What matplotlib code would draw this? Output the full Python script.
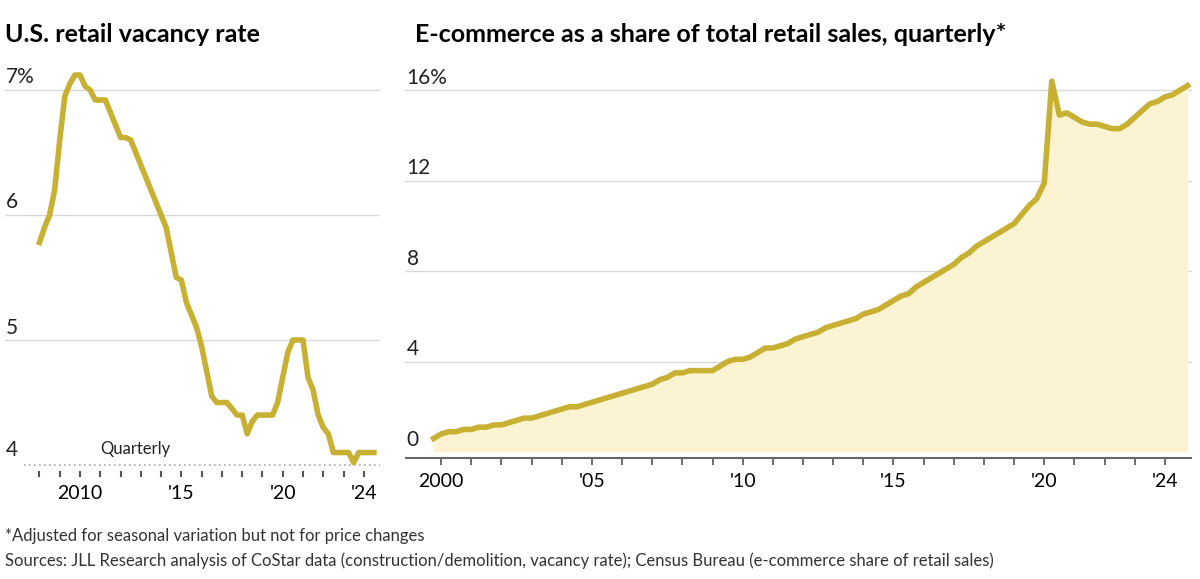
import numpy as np
import matplotlib.pyplot as plt

plt.rcParams['font.family'] = ['Lato', 'DejaVu Sans']

# U.S. retail vacancy rate, quarterly from 2008 Q1
vac_start = 2008.0
vacancy = [5.78, 5.9, 6.0, 6.2, 6.6, 6.95, 7.05, 7.12,
           7.12, 7.03, 7.0, 6.92, 6.92, 6.92, 6.82, 6.72,
           6.62, 6.62, 6.6, 6.5, 6.4, 6.3, 6.2, 6.1,
           6.0, 5.9, 5.7, 5.5, 5.48, 5.3, 5.2, 5.1,
           4.95, 4.75, 4.55, 4.5, 4.5, 4.5, 4.45, 4.4,
           4.4, 4.25, 4.35, 4.4, 4.4, 4.4, 4.4, 4.5,
           4.7, 4.9, 5.0, 5.0, 5.0, 4.7, 4.6, 4.4,
           4.3, 4.25, 4.1, 4.1, 4.1, 4.1, 4.02, 4.1,
           4.1, 4.1, 4.1]

# E-commerce share of retail sales, quarterly from 1999 Q4
ec_start = 1999.75
ecommerce = [0.6,
             0.8, 0.9, 0.9, 1.0, 1.0, 1.1, 1.1, 1.2,
             1.2, 1.3, 1.4, 1.5, 1.5, 1.6, 1.7, 1.8,
             1.9, 2.0, 2.0, 2.1, 2.2, 2.3, 2.4, 2.5,
             2.6, 2.7, 2.8, 2.9, 3.0, 3.2, 3.3, 3.5,
             3.5, 3.6, 3.6, 3.6, 3.6, 3.8, 4.0, 4.1,
             4.1, 4.2, 4.4, 4.6, 4.6, 4.7, 4.8, 5.0,
             5.1, 5.2, 5.3, 5.5, 5.6, 5.7, 5.8, 5.9,
             6.1, 6.2, 6.3, 6.5, 6.7, 6.9, 7.0, 7.3,
             7.5, 7.7, 7.9, 8.1, 8.3, 8.6, 8.8, 9.1,
             9.3, 9.5, 9.7, 9.9, 10.1, 10.5, 10.9, 11.2,
             11.9, 16.4, 14.9, 15.0, 14.8, 14.6, 14.5, 14.5,
             14.4, 14.3, 14.3, 14.5, 14.8, 15.1, 15.4, 15.5,
             15.7, 15.8, 16.0, 16.2]

line_color = '#c8b032'
fill_color = '#fcf3d3'
grid_color = '#d9d9d9'

fig = plt.figure(figsize=(12, 5.79), dpi=100)

# ---- left chart ----
ax1 = fig.add_axes([5/1200, 0.186, 375/1200, 0.691])
vx = vac_start + np.arange(len(vacancy)) * 0.25
ax1.plot(vx, vacancy, color=line_color, lw=4, solid_joinstyle='round', zorder=3)
ax1.set_xlim(2006.3, 2024.8)
ax1.set_ylim(3.95, 7.15)
for v, lab in [(7, '7%'), (6, '6'), (5, '5')]:
    ax1.axhline(v, color=grid_color, lw=1, zorder=1)
    ax1.text(2006.35, v + 0.1, lab, fontsize=15, va='center', ha='left', color='#222222')
ax1.text(2006.35, 4.12, '4', fontsize=15, va='center', ha='left', color='#222222')
ax1.axhline(4, xmin=0.05, color='#aaaaaa', lw=1.2, ls=(0, (1, 2)), zorder=1)
ax1.text(2011, 4.13, 'Quarterly', fontsize=12, va='center', color='#222222')
ax1.set_yticks([])
ax1.set_xticks(range(2008, 2025))
ax1.set_xticklabels(['2010' if y == 2010 else ("'%02d" % (y % 100) if y in (2015, 2020, 2024) else '')
                     for y in range(2008, 2025)], fontsize=14)
ax1.tick_params(axis='x', length=4, width=1.5, color='#555555', pad=6)
for s in ax1.spines.values():
    s.set_visible(False)

# ---- right chart ----
ax2 = fig.add_axes([405/1200, 0.2076, 787/1200, 0.660])
ex = ec_start + np.arange(len(ecommerce)) * 0.25
ax2.fill_between(ex, 0, ecommerce, color=fill_color, lw=0, zorder=1)
ax2.plot(ex, ecommerce, color=line_color, lw=4, solid_joinstyle='round', zorder=3)
ax2.set_xlim(1998.8, 2024.9)
ax2.set_ylim(-0.3, 16.6)
for v in [4, 8, 12, 16]:
    ax2.axhline(v, color=grid_color, lw=1, zorder=0)
for v, lab in [(0, '0'), (4, '4'), (8, '8'), (12, '12'), (16, '16%')]:
    ax2.text(1998.85, v + 0.55, lab, fontsize=15, va='center', ha='left', color='#222222')
ax2.axhline(-0.25, color='#666666', lw=1.5, zorder=2)
ax2.set_yticks([])
years = list(range(2000, 2025))
ax2.set_xticks(years)
ax2.set_xticklabels(['2000' if y == 2000 else ("'%02d" % (y % 100) if y % 5 == 0 or y == 2024 else '')
                     for y in years], fontsize=14)
ax2.tick_params(axis='x', length=4, width=1.2, color='#555555', pad=6)
for s in ax2.spines.values():
    s.set_visible(False)

# ---- titles and notes ----
fig.text(5/1200, 1 - 35/579, 'U.S. retail vacancy rate', fontsize=18, fontweight='bold', va='center')
fig.text(415/1200, 1 - 35/579, 'E-commerce as a share of total retail sales, quarterly*',
         fontsize=18, fontweight='bold', va='center')
fig.text(5/1200, 1 - 536/579, '*Adjusted for seasonal variation but not for price changes',
         fontsize=12, va='center', color='#333333')
fig.text(5/1200, 1 - 561/579, 'Sources: JLL Research analysis of CoStar data (construction/demolition, vacancy rate); '
         'Census Bureau (e-commerce share of retail sales)', fontsize=12, va='center', color='#333333')

fig.savefig('out.png', dpi=100, facecolor='white')
